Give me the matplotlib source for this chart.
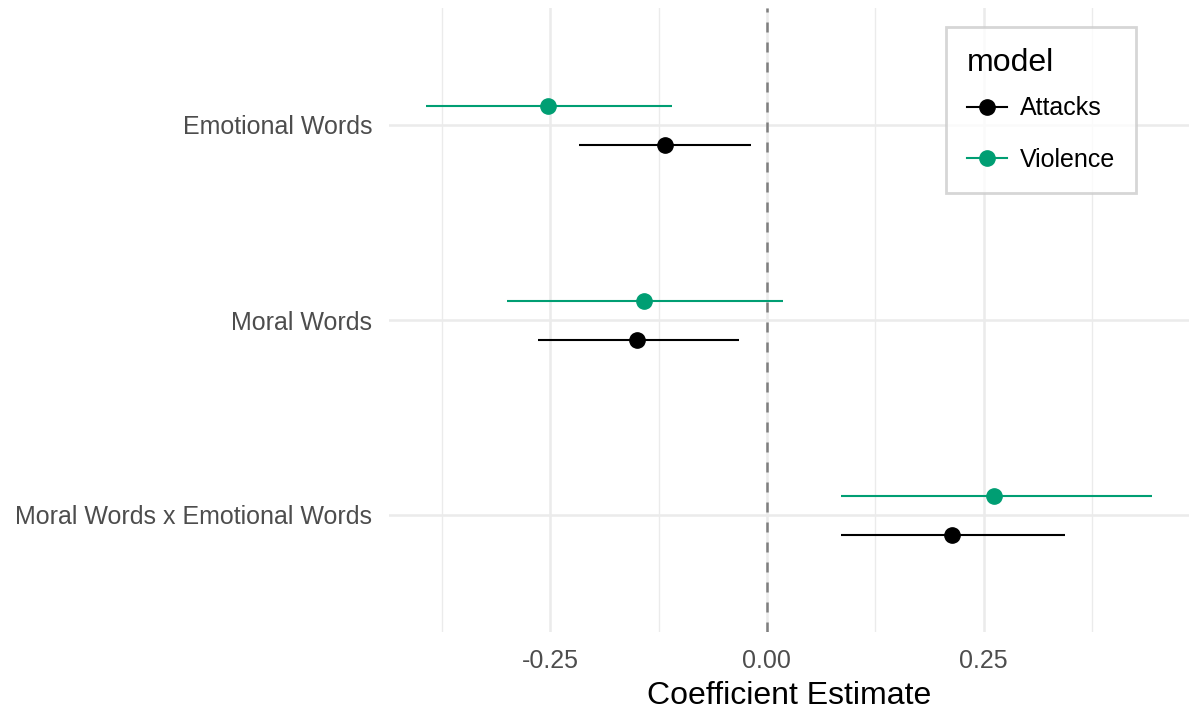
import matplotlib.pyplot as plt
from matplotlib.lines import Line2D

plt.rcParams['font.family'] = ['Liberation Sans', 'DejaVu Sans']

# coefficient estimates with confidence bounds, per term and model
terms = ["Emotional Words", "Moral Words", "Moral Words x Emotional Words"]
models = ["Attacks", "Violence"]
colors = {"Attacks": "#000000", "Violence": "#009E73"}

attacks_est = [-0.118, -0.150, 0.213]
attacks_lo = [-0.217, -0.264, 0.086]
attacks_hi = [-0.018, -0.032, 0.344]

violence_est = [-0.252, -0.142, 0.262]
violence_lo = [-0.393, -0.300, 0.086]
violence_hi = [-0.110, 0.019, 0.444]

series = {
    "Attacks": (attacks_est, attacks_lo, attacks_hi, -0.1),
    "Violence": (violence_est, violence_lo, violence_hi, 0.1),
}

W, H = 1193, 711
fig = plt.figure(figsize=(W / 100, H / 100), dpi=100)
ax = fig.add_axes([389 / W, (H - 632) / H, (1189 - 389) / W, (632 - 8) / H])

# top term at the top of the axis
ypos = {t: len(terms) - i for i, t in enumerate(terms)}

grid_col = "#EBEBEB"
for x in [-0.375, -0.125, 0.125, 0.375]:
    ax.axvline(x, color=grid_col, lw=1.0, zorder=0)
for x in [-0.25, 0.0, 0.25]:
    ax.axvline(x, color=grid_col, lw=1.8, zorder=0)
for t in terms:
    ax.axhline(ypos[t], color=grid_col, lw=1.8, zorder=0)

ax.axvline(0, color="#7F7F7F", lw=1.8, dashes=(4, 4), zorder=1)

for m in models:
    est, lo, hi, off = series[m]
    for i, t in enumerate(terms):
        y = ypos[t] + off
        ax.plot([lo[i], hi[i]], [y, y], color=colors[m], lw=1.5, zorder=2,
                solid_capstyle="butt")
        ax.plot(est[i], y, "o", color=colors[m], ms=11, zorder=3)

ax.set_xlim(-0.436, 0.487)
ax.set_ylim(0.4, 3.6)
ax.set_xticks([-0.25, 0.0, 0.25])
ax.set_xticklabels(["-0.25", "0.00", "0.25"])
ax.set_yticks([ypos[t] for t in terms])
ax.set_yticklabels(terms)
ax.tick_params(length=0, labelsize=18, labelcolor="#4D4D4D", pad=12)
for s in ax.spines.values():
    s.set_visible(False)
ax.set_xlabel("Coefficient Estimate", fontsize=23, labelpad=6)

handles = [Line2D([], [], color=colors[m], lw=1.5, marker="o", ms=11) for m in models]
leg = ax.legend(handles, models, title="model", loc="upper right",
                bbox_to_anchor=((1136 - 389) / 800, (632 - 27) / 624),
                borderaxespad=0,
                fontsize=18, title_fontsize=23, frameon=True, fancybox=False,
                handlelength=1.6, handletextpad=0.5, borderpad=0.85,
                labelspacing=1.1, alignment="left")
# tighter gap between the title and the first entry
leg._legend_box.sep = 13
leg.get_frame().set_edgecolor("#CCCCCC")
leg.get_frame().set_linewidth(2)

fig.savefig("out.png", dpi=100)
